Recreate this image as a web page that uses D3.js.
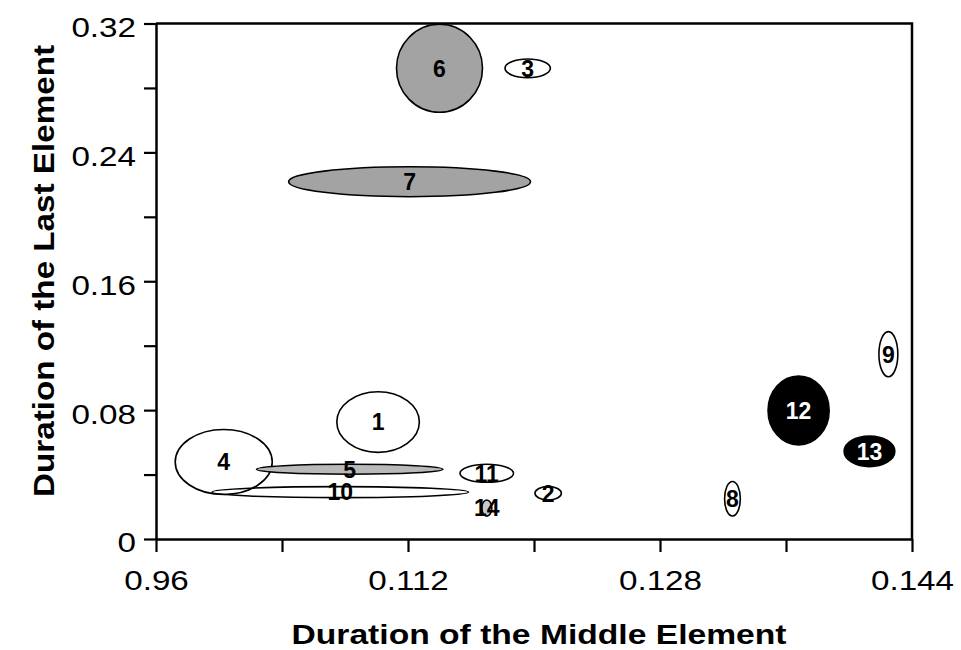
<!DOCTYPE html>
<html>
<head>
<meta charset="utf-8">
<script src="https://cdn.jsdelivr.net/npm/d3@7"></script>
<style>
  html, body { margin: 0; padding: 0; background: #fff; }
  svg { display: block; font-family: "Liberation Sans", Arial, Helvetica, sans-serif; }
</style>
</head>
<body>
<svg id="chart" width="961" height="650"></svg>
<script>
// ---- data ----
const labels     = ["1","2","3","4","5","6","7","8","9","10","11","12","13","14"];
const midDur     = [0.1101, 0.1209, 0.1196, 0.1003, 0.1083, 0.1140, 0.1121, 0.1326, 0.1425, 0.1077, 0.1170, 0.1368, 0.1413, 0.1170];
const lastDur    = [0.0726, 0.0284, 0.2922, 0.0478, 0.0433, 0.2922, 0.2218, 0.0250, 0.1147, 0.0291, 0.0408, 0.0798, 0.0544, 0.0192];
const midSpread  = [0.00262,0.00084,0.00144,0.00308,0.00592,0.00273,0.00768,0.00050,0.00060,0.00815,0.00170,0.00194,0.00161,0.00032];
const lastSpread = [0.0188, 0.0042, 0.0058, 0.0202, 0.0031, 0.0273, 0.0093, 0.0107, 0.0140, 0.0034, 0.0056, 0.0214, 0.0095, 0.0050];
const shade      = [0, 0, 0, 0, 2, 3, 3, 0, 0, 0, 0, 4, 4, 1];

const xTickValues = [0.096, 0.104, 0.112, 0.120, 0.128, 0.136, 0.144];
const xTickLabels = ["0.96", "", "0.112", "", "0.128", "", "0.144"];
const yTickValues = [0, 0.04, 0.08, 0.12, 0.16, 0.20, 0.24, 0.28, 0.32];
const yTickLabels = ["0", "", "0.08", "", "0.16", "", "0.24", "", "0.32"];

const xTitle = "Duration of the Middle Element";
const yTitle = "Duration of the Last Element";

// ---- layout ----
const svg = d3.select("#chart");
const pLeft = 156, pRight = 912, pTop = 23.5, pBottom = 539;

const x = d3.scaleLinear().domain([0.096, 0.144]).range([pLeft, pRight]);
const y = d3.scaleLinear().domain([0, 0.32]).range([pBottom, pTop]);

const fillScale = d3.scaleOrdinal()
  .domain([0, 1, 2, 3, 4])
  .range(["none", "#c9c9c9", "#b9b9b9", "#a3a3a3", "#000000"]);
const textScale = d3.scaleOrdinal()
  .domain([0, 1, 2, 3, 4])
  .range(["#000", "#000", "#000", "#000", "#fff"]);

const data = labels.map((l, i) => ({
  label: l, mx: midDur[i], ly: lastDur[i], sx: midSpread[i], sy: lastSpread[i], shade: shade[i]
}));

// frame (top and right)
svg.append("path")
  .attr("d", `M${pLeft},${pTop}H${pRight}V${pBottom}`)
  .attr("fill", "none").attr("stroke", "#000").attr("stroke-width", 2.5);

// ellipses
svg.append("g").selectAll("ellipse").data(data).join("ellipse")
  .attr("cx", d => x(d.mx))
  .attr("cy", d => y(d.ly))
  .attr("rx", d => x(d.mx + d.sx) - x(d.mx))
  .attr("ry", d => y(d.ly) - y(d.ly + d.sy))
  .attr("fill", d => fillScale(d.shade))
  .attr("stroke", "#000")
  .attr("stroke-width", 1.6);

svg.append("g").selectAll("text").data(data).join("text")
  .attr("x", d => x(d.mx))
  .attr("y", d => y(d.ly))
  .attr("dy", "0.36em")
  .attr("text-anchor", "middle")
  .attr("font-size", 23)
  .attr("font-weight", "bold")
  .attr("fill", d => textScale(d.shade))
  .text(d => d.label);

// axes
const sxf = 1.23;
const xAxis = d3.axisBottom(x)
  .tickValues(xTickValues)
  .tickFormat((d, i) => xTickLabels[i])
  .tickSize(13).tickSizeOuter(0);
const gx = svg.append("g").attr("transform", `translate(0,${pBottom})`).call(xAxis);
gx.select(".domain").attr("stroke-width", 2.5);
gx.selectAll(".tick line").attr("stroke-width", 2.2);
gx.selectAll(".tick text")
  .attr("font-size", 27)
  .attr("font-family", "Liberation Sans, Arial, sans-serif")
  .attr("fill", "#000")
  .attr("y", 51).attr("dy", 0)
  .attr("transform", `scale(${sxf},1)`);

const yAxis = d3.axisLeft(y)
  .tickValues(yTickValues)
  .tickFormat((d, i) => yTickLabels[i])
  .tickSize(12).tickSizeOuter(0);
const gy = svg.append("g").attr("transform", `translate(${pLeft},0)`).call(yAxis);
gy.select(".domain").attr("stroke-width", 2.5);
gy.selectAll(".tick line").attr("stroke-width", 2.2);
gy.selectAll(".tick text")
  .attr("font-size", 27)
  .attr("font-family", "Liberation Sans, Arial, sans-serif")
  .attr("fill", "#000")
  .attr("x", -20 / sxf).attr("dy", "0.48em")
  .attr("transform", `scale(${sxf},1)`);

// titles
svg.append("text")
  .attr("x", 539).attr("y", 644)
  .attr("text-anchor", "middle")
  .attr("font-size", 27).attr("font-weight", "bold")
  .attr("textLength", 495).attr("lengthAdjust", "spacingAndGlyphs")
  .text(xTitle);

svg.append("text")
  .attr("transform", `translate(54,271) rotate(-90)`)
  .attr("text-anchor", "middle")
  .attr("font-size", 29).attr("font-weight", "bold")
  .attr("textLength", 452).attr("lengthAdjust", "spacingAndGlyphs")
  .text(yTitle);
</script>
</body>
</html>
